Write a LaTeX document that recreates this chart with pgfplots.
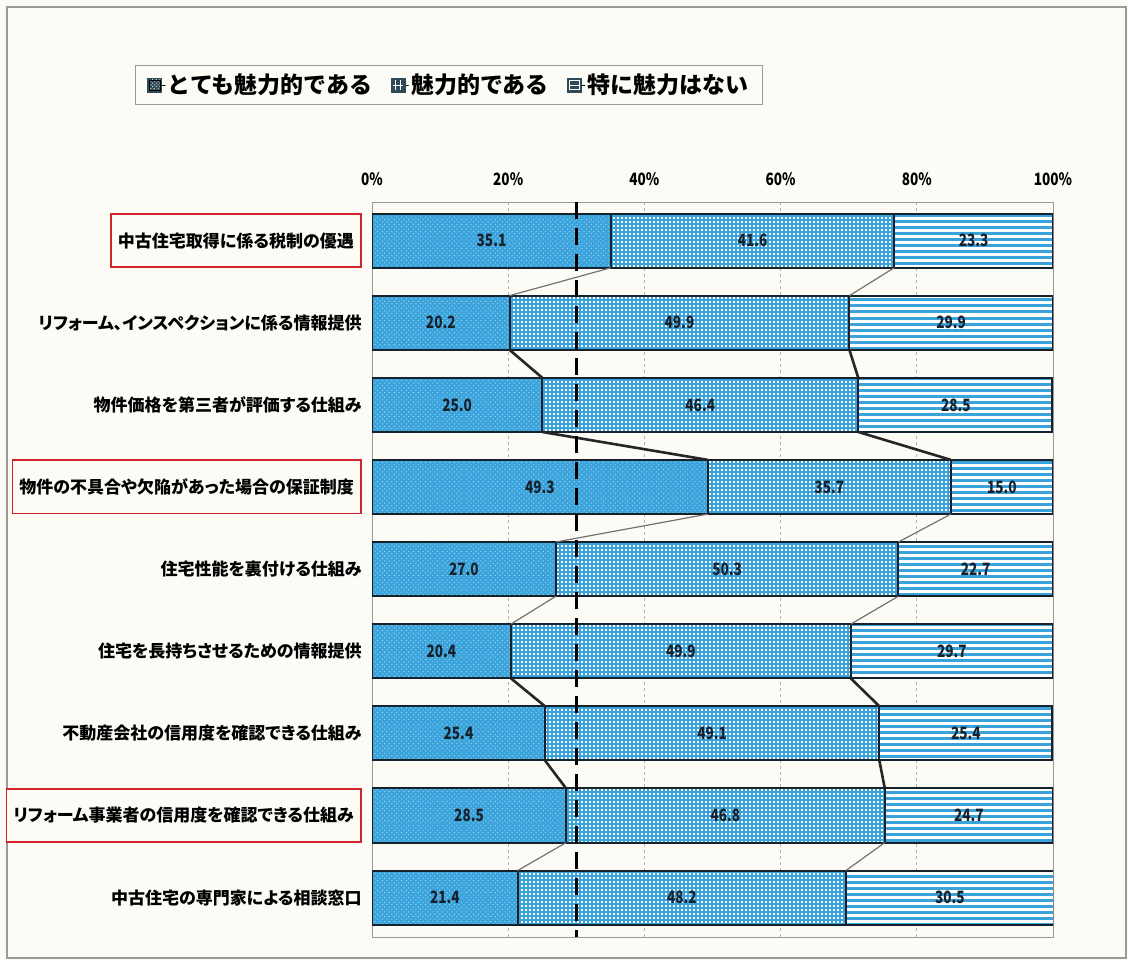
\documentclass[border=0pt]{standalone}
\usepackage{pgfplots}
\usepackage{pgfplotstable}
\pgfplotsset{compat=1.18}
\usetikzlibrary{patterns.meta}
\usepackage{fontspec}
\setmainfont{Noto Sans CJK JP}
\newfontfamily\propjp{Noto Sans CJK JP}[RawFeature=+palt]

\definecolor{barblue}{HTML}{3AA3DC}
\definecolor{barline}{HTML}{15212B}
\definecolor{legdark}{HTML}{2F4B57}
\definecolor{boxred}{HTML}{D2232A}
\definecolor{paper}{HTML}{FCFBF6}
\definecolor{framegray}{HTML}{9A9A9A}

\newcommand{\nar}[1]{\scalebox{0.8}[1]{#1}}
\newcommand{\redbox}[1]{{\setlength\fboxsep{3pt}\setlength\fboxrule{0.9pt}%
  \fcolorbox{boxred}{paper}{\rule[-6.6pt]{0pt}{19.7pt}#1}}}

\pgfplotstableread{
y  a    b    c
0  35.1 41.6 23.3
1  20.2 49.9 29.9
2  25.0 46.4 28.5
3  49.3 35.7 15.0
4  27.0 50.3 22.7
5  20.4 49.9 29.7
6  25.4 49.1 25.4
7  28.5 46.8 24.7
8  21.4 48.2 30.5
}\shares

% label positions: middle of each segment
\pgfplotstableread{
x     y  l
17.55 0  35.1
55.90 0  41.6
88.35 0  23.3
10.10 1  20.2
45.15 1  49.9
85.05 1  29.9
12.50 2  25.0
48.20 2  46.4
85.75 2  28.5
24.65 3  49.3
67.15 3  35.7
92.50 3  15.0
13.50 4  27.0
52.15 4  50.3
88.65 4  22.7
10.20 5  20.4
45.35 5  49.9
85.15 5  29.7
12.70 6  25.4
49.95 6  49.1
87.20 6  25.4
14.25 7  28.5
51.90 7  46.8
87.65 7  24.7
10.70 8  21.4
45.50 8  48.2
84.85 8  30.5
}\vallabels

\pgfplotsset{
  frame/.style={
    at={(186pt,-468.5pt)}, anchor=south west,
    scale only axis, width=340.5pt, height=367.5pt,
    xmin=0, xmax=100, ymin=-0.47, ymax=8.48, y dir=reverse,
  },
}

\begin{document}
\begin{tikzpicture}
\fill[paper] (0,0) rectangle (564pt,-480pt);
\useasboundingbox (0,0) rectangle (564pt,-480pt);
\draw[framegray, line width=0.7pt] (3.5pt,-3.5pt) rectangle (563pt,-479pt);

\begin{axis}[
  frame,
  xbar stacked, bar width=0.66,
  xtick={0,20,40,60,80,100}, xticklabel pos=upper,
  xticklabels={\nar{0\%},\nar{20\%},\nar{40\%},\nar{60\%},\nar{80\%},\nar{100\%}},
  xticklabel style={font=\bfseries\fontsize{8.5}{9}\selectfont, anchor=south, inner sep=0pt, yshift=8pt},
  ytick={0,...,8},
  yticklabels={
    \redbox{中古住宅取得に係る税制の優遇},
    リフォーム、インスペクションに係る情報提供\hspace{2pt},
    物件価格を第三者が評価する仕組み\hspace{2pt},
    \redbox{物件の不具合や欠陥があった場合の保証制度},
    住宅性能を裏付ける仕組み\hspace{2pt},
    住宅を長持ちさせるための情報提供\hspace{2pt},
    不動産会社の信用度を確認できる仕組み\hspace{2pt},
    \redbox{リフォーム事業者の信用度を確認できる仕組み},
    中古住宅の専門家による相談窓口\hspace{2pt}},
  yticklabel style={font=\propjp\bfseries\fontsize{8.5}{10}\selectfont, anchor=east, inner sep=0pt, xshift=-5pt},
  major tick length=0pt,
  axis line style={draw=framegray, line width=0.5pt},
  xmajorgrids, grid style={draw=gray!60, line width=0.4pt, dash pattern=on 1.5pt off 1.5pt},
]
\addplot[draw=barline, line width=1pt, fill=barblue,
  postaction={pattern={Dots[distance=1.7pt, radius=0.35pt, angle=45]}, pattern color=white!55!barblue}]
  table[x=a, y=y] {\shares};
\addplot[draw=barline, line width=1pt, fill=white,
  postaction={pattern={Hatch[distance=2pt, angle=0, line width=0.65pt]}, pattern color=barblue}]
  table[x=b, y=y] {\shares};
\addplot[draw=barline, line width=1pt, fill=white,
  postaction={pattern={Lines[distance=3pt, angle=0, line width=1.5pt]}, pattern color=barblue}]
  table[x=c, y=y] {\shares};
\end{axis}

\begin{axis}[
  frame, hide axis, clip=false,
  legend style={at={(-0.348,1.186)}, anchor=north west, draw=framegray, fill=paper,
    font=\bfseries\fontsize{11.5}{13}\selectfont, legend columns=3,
    inner xsep=6pt, inner ysep=3pt,
    nodes={inner sep=1pt},
    /tikz/every even column/.append style={column sep=8pt}},
  legend cell align=left,
]
\addlegendimage{legend image code/.code={
  \path (0pt,0pt) rectangle (8.8pt,0pt);
  \fill[legdark] (0pt,-3.5pt) rectangle (7pt,3.5pt);
  \fill[pattern={Dots[distance=1.3pt, radius=0.35pt, angle=45]}, pattern color=white!80!legdark] (0.9pt,-2.6pt) rectangle (6.1pt,2.6pt);}}
\addlegendentry{とても魅力的である}
\addlegendimage{legend image code/.code={
  \path (0pt,0pt) rectangle (8.8pt,0pt);
  \fill[legdark] (0pt,-3.5pt) rectangle (7pt,3.5pt);
  \draw[white, line width=0.55pt] (2.4pt,-2.5pt) -- (2.4pt,2.5pt) (4.6pt,-2.5pt) -- (4.6pt,2.5pt) (1pt,0pt) -- (6pt,0pt);}}
\addlegendentry{魅力的である}
\addlegendimage{legend image code/.code={
  \path (0pt,0pt) rectangle (8.8pt,0pt);
  \fill[legdark] (0pt,-3.5pt) rectangle (7pt,3.5pt);
  \draw[white, line width=0.55pt] (1.1pt,-2.4pt) rectangle (5.9pt,2.4pt) (1.1pt,0pt) -- (5.9pt,0pt);}}
\addlegendentry{特に魅力はない}

% connectors, rising ones dark and heavy, falling ones light
\addplot[forget plot, draw=black!85, line width=1.3pt, unbounded coords=jump] coordinates {
  (20.2,1.33) (25.0,1.67) (25.0,nan)
  (25.0,2.33) (49.3,2.67) (49.3,nan)
  (20.4,5.33) (25.4,5.67) (25.4,nan)
  (25.4,6.33) (28.5,6.67) (28.5,nan)
  (70.1,1.33) (71.4,1.67) (71.4,nan)
  (71.4,2.33) (85.0,2.67) (85.0,nan)
  (70.3,5.33) (74.5,5.67) (74.5,nan)
  (74.5,6.33) (75.3,6.67)};
\addplot[forget plot, draw=black!55, line width=0.6pt, unbounded coords=jump] coordinates {
  (35.1,0.33) (20.2,0.67) (20.2,nan)
  (49.3,3.33) (27.0,3.67) (27.0,nan)
  (27.0,4.33) (20.4,4.67) (20.4,nan)
  (28.5,7.33) (21.4,7.67) (21.4,nan)
  (76.7,0.33) (70.1,0.67) (70.1,nan)
  (85.0,3.33) (77.3,3.67) (77.3,nan)
  (77.3,4.33) (70.3,4.67) (70.3,nan)
  (75.3,7.33) (69.6,7.67)};
% 30% reference line
\addplot[forget plot, draw=black, line width=1.6pt, dash pattern=on 8.5pt off 4.5pt] coordinates {(30,-0.47) (30,8.48)};
% value labels
\addplot[forget plot, draw=none, nodes near coords={\nar{\pgfplotspointmeta}}, point meta=explicit symbolic,
  every node near coord/.style={anchor=center, inner sep=0pt, text=barline,
    font=\bfseries\fontsize{8.5}{9}\selectfont}]
  table[x=x, y=y, meta=l] {\vallabels};
\end{axis}
\end{tikzpicture}
\end{document}
